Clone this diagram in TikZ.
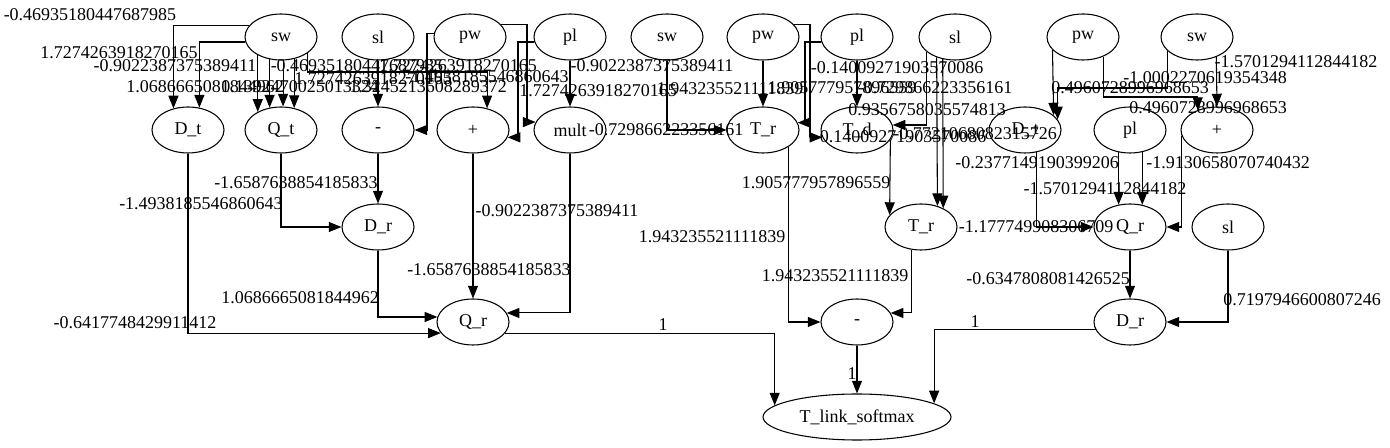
\documentclass[tikz,border=0pt]{standalone}
\usepackage{fontspec}
\setmainfont{Liberation Serif}
\usetikzlibrary{shapes.geometric,arrows.meta}

\begin{document}
\begin{tikzpicture}[x=0.75pt,y=-0.75pt,
    op/.style={draw,line width=0.8pt,ellipse,minimum width=54pt,minimum height=34.5pt,inner sep=0pt,font=\fontsize{13.5}{15}\selectfont},
    wire/.style={line width=0.8pt,-{Triangle[length=9.5pt,width=7.5pt]}},
    lbl/.style={font=\fontsize{13.5}{15}\selectfont,inner sep=0pt}]
    \useasboundingbox (0,0) rectangle (1390,448);

    % Input nodes
    \node[op] (sw1) at (281,37) {sw};
    \node[op] (sl1) at (378,37) {sl};
    \node[op] (pw1) at (470,37) {pw};
    \node[op] (pl1) at (570,37) {pl};
    \node[op] (sw2) at (667,37) {sw};
    \node[op] (pw2) at (763,37) {pw};
    \node[op] (pl2) at (857,37) {pl};
    \node[op] (sl2) at (955,37) {sl};
    \node[op] (pw3) at (1083,37) {pw};
    \node[op] (sw3) at (1197,37) {sw};

    % Second row
    \node[op] (Dt1) at (188,130) {D\_t};
    \node[op] (Qt) at (281,130) {Q\_t};
    \node[op] (mn1) at (378,130) {-};
    \node[op] (plus1) at (473,130) {+};
    \node[op] (mult) at (570,130) {mult};
    \node[op] (Tr1) at (763,130) {T\_r};
    \node[op] (Td) at (857,130) {T\_d};
    \node[op] (Dt2) at (1025,130) {D\_t};
    \node[op] (pl3) at (1130,130) {pl};
    \node[op] (ps3) at (1217,130) {+};

    % Third and fourth row
    \node[op] (Dr1) at (378,227) {D\_r};
    \node[op] (Tr2) at (921,227) {T\_r};
    \node[op] (Qr2) at (1130,227) {Q\_r};
    \node[op] (sl3) at (1228,227) {sl};
    \node[op] (Qr1) at (473,322) {Q\_r};
    \node[op] (mn2) at (857,322) {-};
    \node[op] (Dr2) at (1130,322) {D\_r};

    % Output
    \node[op,minimum width=141pt] (Tls) at (857,417) {T\_link\_softmax};

    % Left group
    \draw[wire] (sw1.161) -| (Dt1.124) node[lbl] at (90,15) {-0.46935180447687985};
    \draw[wire] (sw1.188) -| (Dt1.63) node[lbl] at (119,53) {1.7274263918270165};
    \draw[wire] (sw1.-142) -- (Qt.142) node[lbl] at (175,66) {-0.9022387375389411};
    \draw[wire] (sw1.-117) -- (Qt.117) node[lbl] at (205,87) {1.0686665081844962};
    \draw[wire] (sw1.-85) -- (Qt.85) node[lbl] at (300,87) {0.1392470025013324};
    \draw[wire] (sw1.-59) -- (Qt.59) node[lbl] at (357,66) {-0.46935180447687985};
    \draw[wire] (sw1.-31) |- (plus1.57 |- 0,72) -- (plus1.57) node[lbl] at (373,79) {1.7274263918270165};
    \draw[wire] (sl1) -- (mn1) node[lbl] at (428,87) {1.3245213608289372};
    \draw[wire] (pw1.175) -| (mn1.east -| 427,0) -- (mn1.east) node[lbl] at (458,66) {1.7274263918270165};
    \draw[wire] (pl1.188) -| (plus1.-12 -| 518,0) -- (plus1.-12) node[lbl] at (487,77) {-1.4938185546860643};
    \draw[wire] (pw1.21) -| (mult.167 -| 527,0) -- (mult.167) node[lbl] at (598,91) {1.7274263918270165};
    \draw[wire] (pl1) -- (mult) node[lbl] at (652,66) {-0.9022387375389411};
    \draw[wire] (Dt1.south) |- (Qr1.199) node[lbl] at (135,323) {-0.6417748429911412};
    \draw[wire] (Qt.south) |- (Dr1.west) node[lbl] at (201,204) {-1.4938185546860643};
    \draw[wire] (mn1) -- (Dr1) node[lbl] at (296,183) {-1.6587638854185833};
    \draw[wire] (Dr1.south) |- (Qr1.172) node[lbl] at (300,298) {1.0686665081844962};
    \draw[wire] (plus1) -- (Qr1) node[lbl] at (557,211) {-0.9022387375389411};
    \draw[wire] (mult.south) |- (Qr1.15) node[lbl] at (489,270) {-1.6587638854185833};

    % Middle group
    \draw[wire] (sw2.south) |- (Tr1.west) node[lbl] at (666,130) {-0.729866223356161};
    \draw[wire] (pw2) -- (Tr1) node[lbl] at (730,89) {1.943235521111839};
    \draw[wire] (pw2.21) -| (Td.192 -| 810,0) -- (Td.192) node[lbl] at (842,88) {1.905777957896559};
    \draw[wire] (pl2.188) -| (Tr1.12 -| 805,0) -- (Tr1.12) node[lbl] at (935,88) {-0.729866223356161};
    \draw[wire] (pl2) -- (Td) node[lbl] at (897,68) {-0.14009271903570086};
    \draw[wire] (sl2.-153) |- (Td.8) node[lbl] at (927,110) {0.9356758035574813};
    \draw[wire] (sl2.-132) -- (Tr2.52) node[lbl] at (903,137) {0.14009271903570086};
    \draw[wire] (sl2.-119) -- (Tr2.40) node[lbl] at (975,134) {-0.7721068082315726};
    \draw[wire] (Td.-16) -- (Tr2.159) node[lbl] at (816,183) {1.905777957896559};
    \draw[wire] (Tr1.-33) |- (mn2.west) node[lbl] at (712,237) {1.943235521111839};
    \draw[wire] (Tr2.-112) |- (mn2.15) node[lbl] at (835,276) {1.943235521111839};

    % Right group
    \draw[wire] (pw3.-157) -- (Dt2.27) node[lbl] at (1130,88) {0.4960728996968653};
    \draw[wire] (sw3.-155) |- (Dt2.18 |- 0,88) -- (Dt2.18) node[lbl] at (1205,78) {-1.0002270619354348};
    \draw[wire] (pw3.-44) |- (ps3.134 |- 0,97) -- (ps3.134) node[lbl] at (1208,108) {0.4960728996968653};
    \draw[wire] (sw3.-46) -- (ps3.north) node[lbl] at (1296,62) {-1.5701294112844182};
    \draw[wire] (pl3.-117) -- (Qr2.117) node[lbl] at (1037,163) {-0.2377149190399206};
    \draw[wire] (pl3.-61) -- (Qr2.61) node[lbl] at (1105,189) {-1.5701294112844182};
    \draw[wire] (ps3.189) |- (Qr2.east) node[lbl] at (1228,163) {-1.9130658070740432};
    \draw[wire] (Dt2.-63) |- (Qr2.west) node[lbl] at (1036,227) {-1.177749908306709};
    \draw[wire] (Qr2) -- (Dr2) node[lbl] at (1048,279) {-0.6347808081426525};
    \draw[wire] (sl3.south) |- (Dr2.east) node[lbl] at (1302,300) {0.7197946600807246};

    % Into the output
    \draw[wire] (Qr1.-19) -| (Tls.172) node[lbl] at (663,325) {1};
    \draw[wire] (mn2) -- (Tls) node[lbl] at (852,374) {1};
    \draw[wire] (Dr2.193) -| (Tls.10) node[lbl] at (975,322) {1};
\end{tikzpicture}
\end{document}
